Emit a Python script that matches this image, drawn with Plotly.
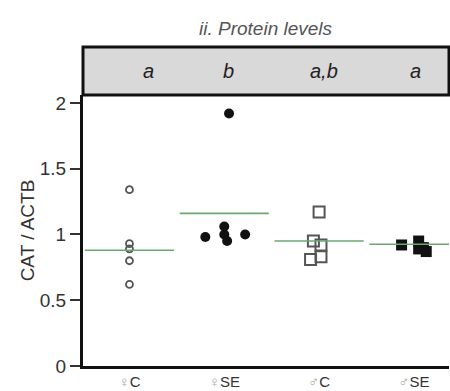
import plotly.graph_objects as go

groups_sym = ["♀", "♀", "♂", "♂"]
groups_txt = ["C", "SE", "C", "SE"]
letters = ["a", "b", "a,b", "a"]
letter_shift = [0.2, 0.045, 0.05, 0.02]
fc_vals = [1.34, 0.93, 0.89, 0.80, 0.62]
fc_jit = [0.0, 0.0, 0.0, 0.0, 0.0]
fse_vals = [1.92, 0.98, 1.06, 1.00, 0.95, 1.00]
fse_jit = [0.05, -0.2, 0.0, 0.0, 0.03, 0.22]
mc_vals = [1.17, 0.95, 0.92, 0.81, 0.83]
mc_jit = [0.0, -0.06, 0.02, -0.09, 0.02]
mse_vals = [0.92, 0.95, 0.89, 0.87, 0.90]
mse_jit = [-0.13, 0.05, 0.05, 0.13, 0.1]
means = [0.88, 1.16, 0.95, 0.925]
mean_half = 0.47

FONT = "Liberation Sans, Arial, sans-serif"
fig = go.Figure()
series = [
    (0, fc_vals, fc_jit, dict(symbol="circle-open", size=7, color="#555", line=dict(width=1.8))),
    (1, fse_vals, fse_jit, dict(symbol="circle", size=10, color="#111")),
    (2, mc_vals, mc_jit, dict(symbol="square-open", size=11, color="#555", line=dict(width=2))),
    (3, mse_vals, mse_jit, dict(symbol="square", size=11, color="#111")),
]
for i, vals, jit, mk in series:
    fig.add_trace(go.Scatter(x=[i + j for j in jit], y=vals, mode="markers",
                             marker=mk, showlegend=False))
for i, m in enumerate(means):
    fig.add_trace(go.Scatter(x=[i - mean_half, i + mean_half], y=[m, m], mode="lines",
                             line=dict(color="#6aa873", width=1.6), showlegend=False))

plot_h = 271
strip_h = 48 / plot_h
fig.add_shape(type="rect", xref="paper", yref="paper", x0=0, x1=1, y0=1, y1=1 + strip_h,
              fillcolor="#d9d9d9", line=dict(color="#111", width=3), layer="below")
for i, t in enumerate(letters):
    fig.add_annotation(x=i + letter_shift[i], y=1 + strip_h / 2, xref="x", yref="paper",
                       text="<i>" + t + "</i>", showarrow=False,
                       font=dict(family=FONT, size=20, color="#222"),
                       xanchor="center", yanchor="middle")
fig.add_annotation(x=0.5, y=1 + (95 - 28) / plot_h, xref="paper", yref="paper",
                   text="<i>ii. Protein levels</i>", showarrow=False,
                   font=dict(family=FONT, size=19, color="#555"),
                   xanchor="center", yanchor="middle")
ticktext = ["<span style='color:#aaa'>" + s + "</span>" + t for s, t in zip(groups_sym, groups_txt)]
fig.update_layout(
    width=450, height=391,
    margin=dict(l=83, r=1, t=95, b=25, autoexpand=False),
    plot_bgcolor="white", paper_bgcolor="white",
    font=dict(family=FONT, size=18, color="#222"),
)
fig.update_xaxes(range=[-0.49, 3.37], tickmode="array", tickvals=list(range(4)), ticktext=ticktext,
                 showline=True, linecolor="#111", linewidth=3, showgrid=False, zeroline=False,
                 ticks="", ticklabelstandoff=0, automargin=False, tickfont=dict(size=15, color="#333"))
fig.update_yaxes(range=[0, 2.06], tickvals=[0, 0.5, 1, 1.5, 2], ticktext=["0", "0.5", "1", "1.5", "2"],
                 showline=True, linecolor="#111", linewidth=3, showgrid=False, zeroline=False,
                 ticks="outside", ticklen=10, tickwidth=2, tickcolor="#333", automargin=False,
                 tickfont=dict(size=19, color="#333"),
                 title=dict(text="CAT / ACTB", font=dict(size=19, color="#333"), standoff=1))
fig.write_html("out.html")
